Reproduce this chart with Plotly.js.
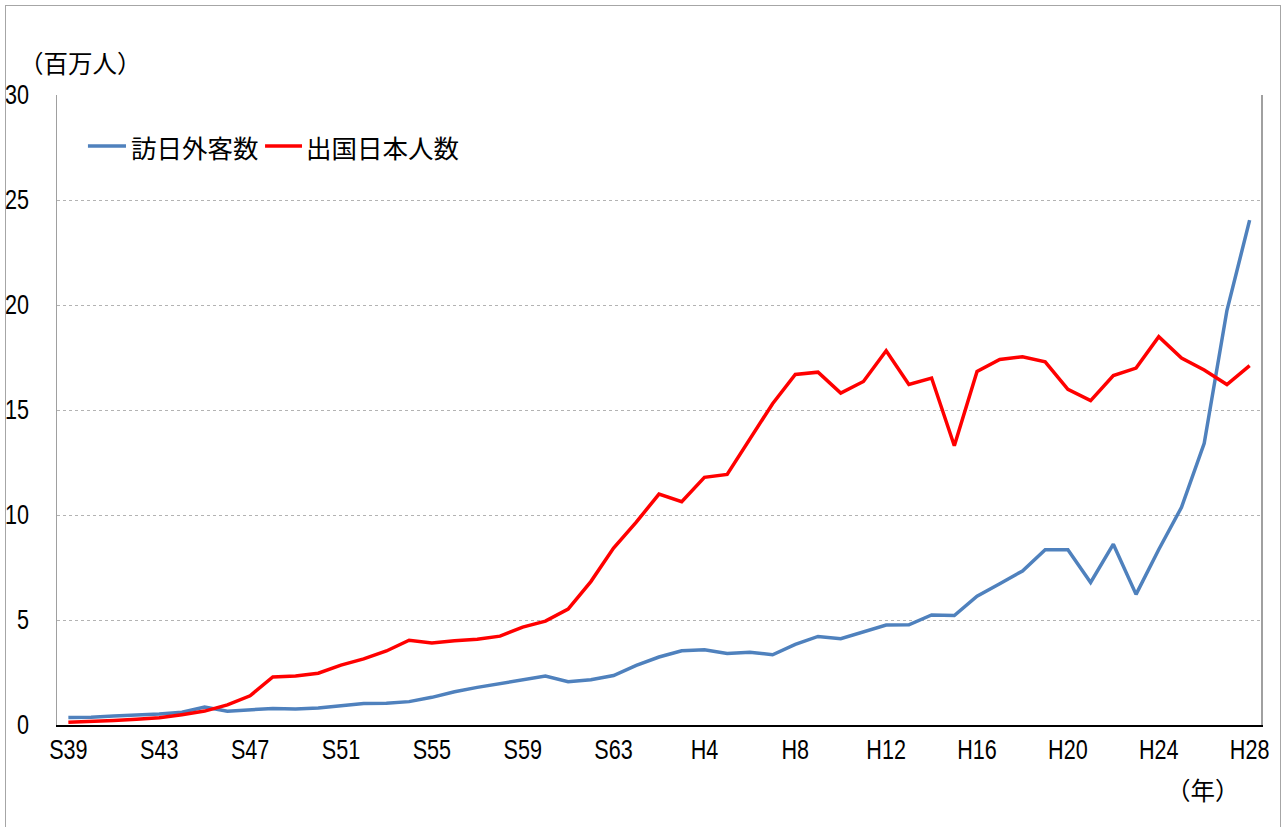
<!DOCTYPE html>
<html>
<head>
<meta charset="utf-8">
<script src="https://cdn.plot.ly/plotly-3.0.1.min.js"></script>
<style>
  html, body { margin: 0; padding: 0; background: #fff; }
  #chart { width: 1283px; height: 827px; position: absolute; left: 0; top: 0; }
  #frame { position: absolute; left: 5px; top: 5px; width: 1274px; height: 840px; border: 1.5px solid #a6a6a6; pointer-events: none; }
</style>
</head>
<body>
<div id="chart"></div>
<div id="frame"></div>
<script>
// Years S39 (1964) to H28 (2016)
const years = ["S39","S40","S41","S42","S43","S44","S45","S46","S47","S48","S49","S50","S51","S52","S53","S54","S55","S56","S57","S58","S59","S60","S61","S62","S63",
               "H1","H2","H3","H4","H5","H6","H7","H8","H9","H10","H11","H12","H13","H14","H15","H16","H17","H18","H19","H20","H21","H22","H23","H24","H25","H26","H27","H28"];
// 訪日外客数 (millions)
const visitors = [0.353,0.367,0.433,0.477,0.519,0.609,0.854,0.660,0.724,0.785,0.764,0.812,0.915,1.028,1.039,1.113,1.317,1.583,1.793,1.968,2.110,2.327,2.062,2.155,2.355,
                  2.835,3.236,3.533,3.582,3.410,3.468,3.345,3.837,4.218,4.106,4.438,4.757,4.772,5.239,5.212,6.138,6.728,7.334,8.347,8.351,6.790,8.611,6.219,8.358,10.364,13.413,19.737,24.040];
// 出国日本人数 (millions)
const outbound = [0.128,0.159,0.212,0.268,0.344,0.493,0.663,0.961,1.392,2.289,2.336,2.466,2.853,3.151,3.525,4.039,3.909,4.007,4.086,4.232,4.659,4.948,5.516,6.829,8.427,
                  9.663,10.997,10.634,11.791,11.934,13.579,15.298,16.695,16.803,15.806,16.358,17.819,16.216,16.523,13.296,16.831,17.404,17.535,17.295,15.987,15.446,16.637,16.994,18.491,17.473,16.903,16.214,17.116];
const xTickLabels = ["S39","S43","S47","S51","S55","S59","S63","H4","H8","H12","H16","H20","H24","H28"];
const yTickValues = [0,5,10,15,20,25,30];
const seriesNames = ["訪日外客数","出国日本人数"];
const seriesColors = ['#4f81bd', '#ff0000'];

const numFont = '"Liberation Sans", Arial, sans-serif';
const jpFont = '"Noto Sans CJK JP", sans-serif';

const traces = [
  { x: years, y: visitors, name: seriesNames[0], type: 'scatter', mode: 'lines',
    line: { color: seriesColors[0], width: 3.5 } },
  { x: years, y: outbound, name: seriesNames[1], type: 'scatter', mode: 'lines',
    line: { color: seriesColors[1], width: 3.5 } }
];

// Manual legend (line sample + label), placed in paper coordinates
const legY = 0.919;
const legendShapes = [
  { type: 'line', xref: 'paper', yref: 'paper', x0: 0.0257, x1: 0.0573, y0: legY, y1: legY,
    line: { color: seriesColors[0], width: 3.5 } },
  { type: 'line', xref: 'paper', yref: 'paper', x0: 0.1728, x1: 0.2035, y0: legY, y1: legY,
    line: { color: seriesColors[1], width: 3.5 } }
];
const legendAnns = [
  { text: seriesNames[0], xref: 'paper', yref: 'paper', x: 0.0595, y: legY, xanchor: 'left', yanchor: 'middle',
    showarrow: false, font: { family: jpFont, size: 25.5, color: '#000' } },
  { text: seriesNames[1], xref: 'paper', yref: 'paper', x: 0.2055, y: legY, xanchor: 'left', yanchor: 'middle',
    showarrow: false, font: { family: jpFont, size: 25.5, color: '#000' } }
];

const layout = {
  width: 1283, height: 827,
  margin: { l: 57, r: 22, t: 95, b: 102 },
  paper_bgcolor: '#ffffff', plot_bgcolor: '#ffffff',
  showlegend: false,
  xaxis: {
    type: 'category', range: [-0.5, years.length - 0.5],
    tickmode: 'array', tickvals: xTickLabels, ticktext: xTickLabels,
    showgrid: false, showline: true, linecolor: '#000', linewidth: 1.5,
    ticks: '', zeroline: false,
    tickfont: { family: numFont, size: 27, color: '#000' }
  },
  yaxis: {
    range: [0, 30], tickmode: 'array', tickvals: yTickValues,
    showgrid: true, gridcolor: '#b3b3b3', griddash: 'dot', gridwidth: 1,
    showline: true, linecolor: '#a0a0a0', linewidth: 1.5, mirror: true,
    ticks: '', zeroline: false, ticklabelstandoff: 21,
    tickfont: { family: numFont, size: 27, color: '#000' }
  },
  shapes: legendShapes,
  annotations: [
    { text: '（百万人）', xref: 'paper', yref: 'paper', x: -0.033, y: 1.051, xanchor: 'left', yanchor: 'middle',
      showarrow: false, font: { family: jpFont, size: 24.5, color: '#000' } },
    { text: '（年）', xref: 'paper', yref: 'paper', x: 0.952, y: -0.102, xanchor: 'center', yanchor: 'middle',
      showarrow: false, font: { family: jpFont, size: 24.5, color: '#000' } }
  ].concat(legendAnns)
};

Plotly.newPlot('chart', traces, layout, { displayModeBar: false, staticPlot: true }).then(function (gd) {
  // Narrow the numeric tick labels horizontally around their anchor point (the original uses a condensed face)
  gd.querySelectorAll('.xtick text, .ytick text').forEach(function (t) {
    const tr = t.getAttribute('transform') || '';
    const ax = parseFloat(t.getAttribute('x')) || 0;
    t.setAttribute('transform', tr + ' translate(' + ax + ',0) scale(0.8,1) translate(' + (-ax) + ',0)');
  });
});
</script>
</body>
</html>
